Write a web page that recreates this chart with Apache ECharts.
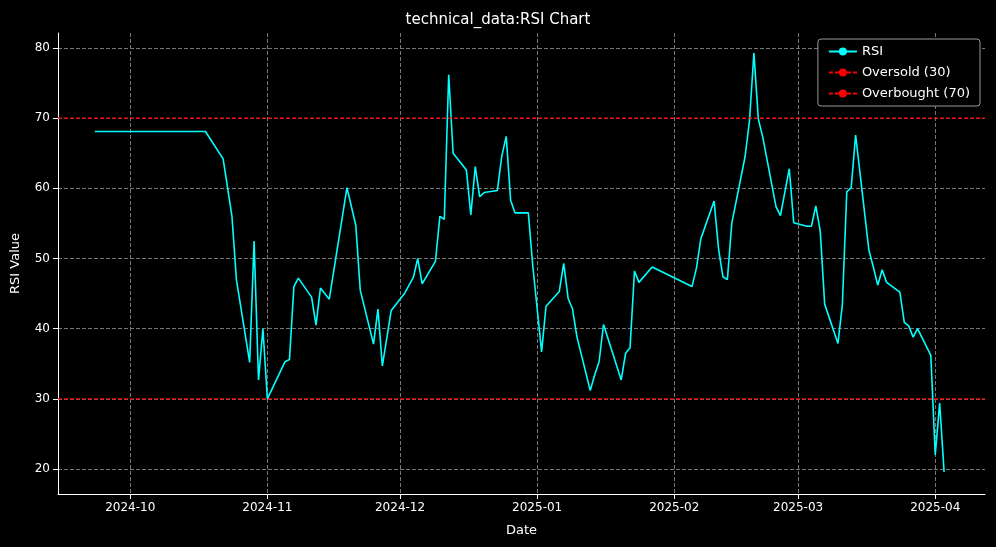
<!DOCTYPE html>
<html><head><meta charset="utf-8">
<script src="https://cdn.jsdelivr.net/npm/echarts@6/dist/echarts.min.js"></script>
<style>html,body{margin:0;background:#000}#c{width:996px;height:547px}</style>
</head><body><div id="c"></div>
<script>
const dates = ["2024-09-23","2024-10-18","2024-10-22","2024-10-24","2024-10-25","2024-10-28","2024-10-29","2024-10-30","2024-10-31","2024-11-01","2024-11-05","2024-11-06","2024-11-07","2024-11-08","2024-11-11","2024-11-12","2024-11-13","2024-11-15","2024-11-19","2024-11-21","2024-11-22","2024-11-25","2024-11-26","2024-11-27","2024-11-29","2024-12-02","2024-12-04","2024-12-05","2024-12-06","2024-12-09","2024-12-10","2024-12-11","2024-12-12","2024-12-13","2024-12-16","2024-12-17","2024-12-18","2024-12-19","2024-12-20","2024-12-23","2024-12-24","2024-12-25","2024-12-26","2024-12-27","2024-12-30","2024-12-31","2025-01-02","2025-01-03","2025-01-06","2025-01-07","2025-01-08","2025-01-09","2025-01-10","2025-01-13","2025-01-14","2025-01-15","2025-01-16","2025-01-20","2025-01-21","2025-01-22","2025-01-23","2025-01-24","2025-01-27","2025-02-05","2025-02-06","2025-02-07","2025-02-10","2025-02-11","2025-02-12","2025-02-13","2025-02-14","2025-02-17","2025-02-18","2025-02-19","2025-02-20","2025-02-21","2025-02-24","2025-02-25","2025-02-27","2025-02-28","2025-03-03","2025-03-04","2025-03-05","2025-03-06","2025-03-07","2025-03-10","2025-03-11","2025-03-12","2025-03-13","2025-03-14","2025-03-17","2025-03-18","2025-03-19","2025-03-20","2025-03-21","2025-03-24","2025-03-25","2025-03-26","2025-03-27","2025-03-28","2025-03-31","2025-04-01","2025-04-02","2025-04-03"];
const rsi = [68.1,68.1,64.2,56,47,35.2,52.5,32.7,40,30,35.3,35.6,46,47.2,44.5,40.5,45.8,44.2,60.1,54.7,45.5,37.8,42.8,34.7,42.6,45,47.3,50,46.4,49.6,56,55.6,76.2,65,62.6,56.2,63.1,58.8,59.4,59.7,64.6,67.4,58.3,56.5,56.5,49,36.7,43.2,45.3,49.3,44.3,42.8,38.8,31.2,33.4,35.3,40.6,32.7,36.5,37.3,48.2,46.6,48.8,46,48.6,52.8,58.2,51.4,47.4,47,55,64.5,69.6,79.3,69.9,67.3,57.4,56.1,62.8,55.1,54.6,54.6,57.5,53.9,43.5,37.9,43.4,59.5,60.1,67.6,51.2,48.8,46.2,48.4,46.6,45.2,40.9,40.4,38.8,40,36.2,22,29.4,19.6];
const yTicks = [20,30,40,50,60,70,80];
const xTicks = ["2024-10-01","2024-11-01","2024-12-01","2025-01-01","2025-02-01","2025-03-01","2025-04-01"];
const oversold = 30, overbought = 70;

const ts = d => Date.parse(d + "T00:00:00Z");
const xMin = Date.parse("2024-09-14T16:00:00Z"), xMax = Date.parse("2025-04-12T06:00:00Z");
const xt = xTicks.map(ts);
const txt = '#fff';
const chart = echarts.init(document.getElementById('c'));
chart.setOption({
  backgroundColor: '#000',
  animation: false,
  title: {text: 'technical_data:RSI Chart', left: 'center', top: 8, textStyle: {color: txt, fontSize: 15, fontWeight: 'normal', fontFamily: 'DejaVu Sans'}},
  legend: {orient: 'vertical', right: 16, top: 39, backgroundColor: '#000', borderColor: '#999', borderWidth: 1, borderRadius: 3, padding: [6, 10], itemGap: 8, itemWidth: 28, itemHeight: 10,
    textStyle: {color: txt, fontSize: 13, fontFamily: 'DejaVu Sans'}, data: ['RSI', 'Oversold (30)', 'Overbought (70)']},
  grid: {left: 58, right: 11, top: 33, bottom: 53},
  xAxis: {type: 'value', min: xMin, max: xMax, name: 'Date', nameLocation: 'middle', nameGap: 30, nameTextStyle: {color: txt, fontSize: 13, fontFamily: 'DejaVu Sans'},
    axisLine: {lineStyle: {color: '#fff'}}, axisTick: {show: true, customValues: xt, lineStyle: {color: '#fff'}},
    axisLabel: {customValues: xt, color: txt, fontSize: 12, fontFamily: 'DejaVu Sans', formatter: v => new Date(v).toISOString().slice(0, 7)},
    splitLine: {show: true, lineStyle: {color: '#777', type: 'dashed'}}},
  yAxis: {type: 'value', min: 16.44, max: 82.14, name: 'RSI Value', nameLocation: 'middle', nameGap: 36, nameTextStyle: {color: txt, fontSize: 13, fontFamily: 'DejaVu Sans'},
    axisLine: {show: true, lineStyle: {color: '#fff'}}, axisTick: {show: true, customValues: yTicks, lineStyle: {color: '#fff'}},
    axisLabel: {customValues: yTicks, color: txt, fontSize: 12, fontFamily: 'DejaVu Sans'},
    splitLine: {show: true, lineStyle: {color: '#777', type: 'dashed'}}},
  series: [
    {name: 'RSI', type: 'line', showSymbol: false, symbol: 'none', color: '#00ffff', lineStyle: {width: 1.6}, data: dates.map((d, i) => [ts(d), rsi[i]])},
    {name: 'Oversold (30)', type: 'line', symbol: 'none', color: '#ff0000', lineStyle: {width: 1.2, type: [4, 2]}, data: [[xMin, oversold], [xMax, oversold]]},
    {name: 'Overbought (70)', type: 'line', symbol: 'none', color: '#ff0000', lineStyle: {width: 1.2, type: [4, 2]}, data: [[xMin, overbought], [xMax, overbought]]}
  ]
});
</script></body></html>
